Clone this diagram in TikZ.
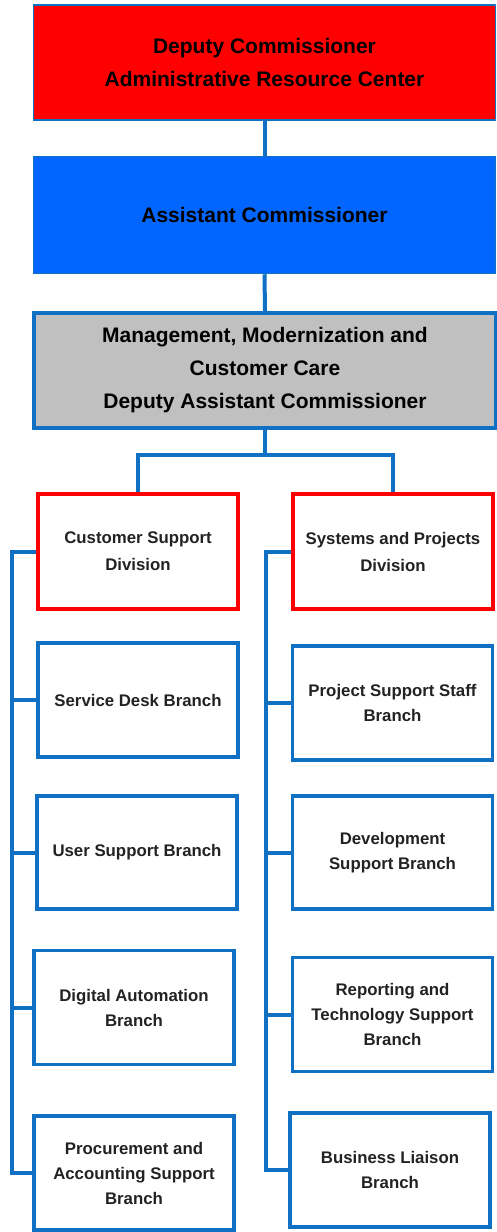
\documentclass[tikz,border=0pt]{standalone}
\usepackage{fontspec}
\setmainfont{Liberation Sans}
\usepackage{tikz}
\definecolor{linkblue}{HTML}{1070C4}
\definecolor{headred}{HTML}{FF0000}
\definecolor{headblue}{HTML}{0066FF}
\definecolor{headgray}{HTML}{C0C0C0}
\definecolor{inkgray}{HTML}{222222}
\tikzset{
    every node/.style={rectangle, draw=linkblue, line width=3.5pt, align=center,
    	font=\bfseries, text=inkgray, inner sep=2pt}
}
\tikzset{
    head/.style={minimum width=462pt, minimum height=115pt, line width=1.5pt,
    	text=black, font=\fontsize{21}{33}\bfseries},
    division/.style={draw=headred, minimum width=200pt, minimum height=115pt,
    	font=\fontsize{16.8}{27}\bfseries},
    branch/.style={minimum width=200pt, minimum height=114pt,
    	font=\fontsize{16.8}{25}\bfseries}
}
\tikzset{
    link/.style={draw=linkblue, line width=4pt}
}

\begin{document}
\begin{tikzpicture}[x=1pt, y=-1pt]
  \useasboundingbox (0,0) rectangle (496,1232);

  \node (dc) [head, fill=headred] at (264.5,62.5) {Deputy Commissioner\\Administrative Resource Center};
  \node (ac) [head, fill=headblue, minimum height=117pt] at (264.5,215) {Assistant Commissioner};
  \node (dac) [head, fill=headgray, line width=3.5pt] at (265,370.5) {Management, Modernization and\\Customer Care\\Deputy Assistant Commissioner};

  \node (csd) [division] at (138,551.5) {Customer Support\\Division};
  \node (spd) [division] at (393,551.5) {Systems and Projects\\Division};

  \node (sdb) [branch] at (138,700) {Service Desk Branch};
  \node (usb) [branch, minimum height=113pt] at (137,852.5) {User Support Branch};
  \node (dab) [branch] at (134,1007.5) {Digital Automation\\Branch};
  \node (pasb) [branch] at (134,1173) {Procurement and\\Accounting Support\\Branch};

  \node (pssb) [branch] at (392.5,703) {Project Support Staff\\Branch};
  \node (dsb) [branch, minimum height=113pt] at (392.5,852.5) {Development\\Support Branch};
  \node (rtsb) [branch] at (392.5,1014.5) {Reporting and\\Technology Support\\Branch};
  \node (blb) [branch] at (390,1170) {Business Liaison\\Branch};

  \coordinate (split) at (266,455);
  \coordinate (lsp) at (12,0);
  \coordinate (rsp) at (266,0);

  \draw [link] (dc.south) -- (ac.north);
  \draw [link] (ac.south) -- (dac.north);
  \draw [link] (dac.south) -- (dac.south |- split);
  \draw [link] (csd.north) |- (split) -| (spd.north);

  \draw [link] (csd.west) -- (csd.west -| lsp) |- (pasb.west);
  \draw [link] (sdb.west) -- (sdb.west -| lsp);
  \draw [link] (usb.west) -- (usb.west -| lsp);
  \draw [link] (dab.west) -- (dab.west -| lsp);

  \draw [link] (spd.west) -- (spd.west -| rsp) |- (blb.west);
  \draw [link] (pssb.west) -- (pssb.west -| rsp);
  \draw [link] (dsb.west) -- (dsb.west -| rsp);
  \draw [link] (rtsb.west) -- (rtsb.west -| rsp);
\end{tikzpicture}
\end{document}
